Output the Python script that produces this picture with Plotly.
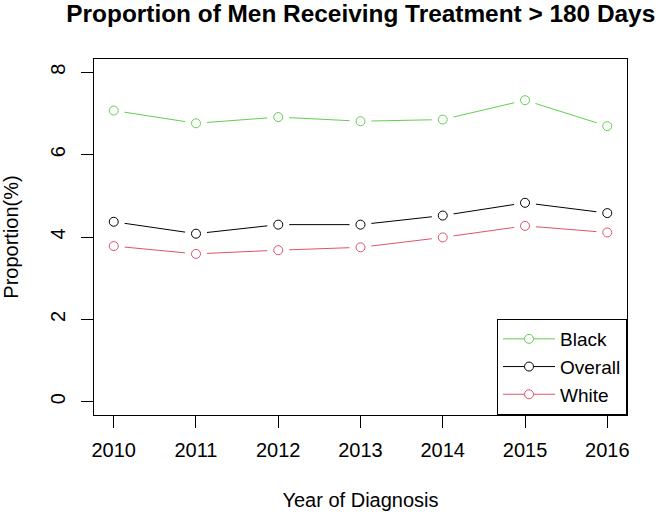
import plotly.graph_objects as go

years = [2010, 2011, 2012, 2013, 2014, 2015, 2016]
black = [7.07, 6.76, 6.91, 6.81, 6.85, 7.32, 6.69]
overall = [4.37, 4.08, 4.30, 4.30, 4.52, 4.83, 4.58]
white = [3.78, 3.59, 3.68, 3.75, 3.99, 4.27, 4.11]
y_ticks = [0, 2, 4, 6, 8]

series = [("Black", black, "#61D04F"), ("Overall", overall, "#000000"), ("White", white, "#DF536B")]

FONT = "Liberation Sans, Arial, sans-serif"
W, H = 661, 514
L, R, T, B = 94.3, 33.7, 59, 99.3

fig = go.Figure()
# lines (with legend entries)
for name, vals, col in series:
    fig.add_trace(go.Scatter(
        x=years, y=vals, name=name, mode="lines+markers",
        line=dict(color=col, width=1),
        marker=dict(symbol="circle", size=9, color="white", line=dict(color=col, width=1)),
        hoverinfo="skip",
    ))
# white gaps around points (R type = "b")
for name, vals, col in series:
    fig.add_trace(go.Scatter(
        x=years, y=vals, mode="markers", showlegend=False,
        marker=dict(symbol="circle", size=22, color="white", line=dict(width=0)),
        hoverinfo="skip",
    ))
# open circles on top
for name, vals, col in series:
    fig.add_trace(go.Scatter(
        x=years, y=vals, name=name, mode="markers", showlegend=False,
        marker=dict(symbol="circle", size=9, color="white", line=dict(color=col, width=1)),
    ))

fig.update_layout(
    width=W, height=H,
    margin=dict(l=L, r=R, t=T, b=B),
    paper_bgcolor="white", plot_bgcolor="white",
    font=dict(family=FONT, size=20, color="black"),
    title=dict(text="<b>Proportion of Men Receiving Treatment > 180 Days</b>",
               x=(L + (W - R)) / 2 / W, xanchor="center", y=1 - 5 / H, yanchor="top",
               pad=dict(t=0, b=0, l=0, r=0),
               font=dict(family=FONT, size=24.4, color="black")),
    showlegend=True,
    legend=dict(x=1, xanchor="right", y=0, yanchor="bottom",
                bgcolor="white", bordercolor="black", borderwidth=1,
                font=dict(family=FONT, size=19, color="black"),
                tracegroupgap=0, itemwidth=52),
)
fig.update_xaxes(
    range=[2009.76, 2016.24], tickvals=years, ticktext=[str(y) for y in years],
    showgrid=False, zeroline=False, showline=True, linecolor="black", linewidth=1,
    mirror=True, ticks="outside", ticklen=12, tickcolor="black", tickwidth=1,
    tickfont=dict(size=20, color="black"), automargin=False, ticklabelstandoff=5,
    title=dict(text="Year of Diagnosis", font=dict(size=20, color="black"), standoff=32),
)
fig.update_yaxes(
    range=[-0.32, 8.32], tickvals=y_ticks, tickangle=-90,
    showgrid=False, zeroline=False, showline=True, linecolor="black", linewidth=1,
    mirror=True, ticks="outside", ticklen=12, tickcolor="black", tickwidth=1,
    tickfont=dict(size=20, color="black"), automargin=False, ticklabelstandoff=8,
    title=dict(text="Proportion(%)", font=dict(size=20, color="black"), standoff=26),
)
fig.write_html("out.html", config={"displayModeBar": False},
               post_script="document.body.style.margin='0';")
